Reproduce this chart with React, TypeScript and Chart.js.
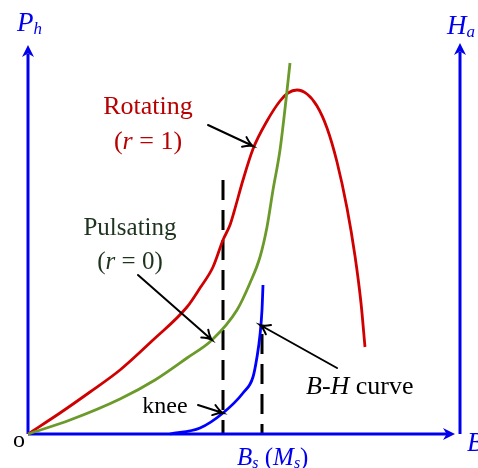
import React, { useEffect, useRef } from "react";
import { Chart, registerables } from "chart.js";

Chart.register(...registerables);

// Values (B on the horizontal axis, Ph / Ha on the vertical axes)
const rotatingCurve: [number, number][] = [
  [0, 0], [32, 21], [62, 42], [92, 64], [125, 94], [159, 127], [172, 146], [185, 167],
  [195, 194], [202, 209], [206, 222], [215, 254], [225, 285], [239, 313], [252, 333],
  [260, 341], [269, 344], [279, 340], [289, 328], [299, 306], [309, 272], [319, 226],
  [327, 178], [333, 131], [337, 87],
];
const pulsatingCurve: [number, number][] = [
  [0, 0], [42, 14], [92, 35], [127, 54], [159, 76], [184, 94], [209, 124], [222, 151],
  [232, 177], [239, 207], [245, 244], [252, 284], [258, 334], [262, 371],
];
const bhCurve: [number, number][] = [
  [142, 0], [172, 6], [195, 21], [215, 41], [225, 57], [229, 77], [232, 99], [234, 124], [235, 149],
];
const kneeLine: [number, number][] = [[195, 254], [195, 0]];
const saturationLine: [number, number][] = [[234, 100], [234, 0]];
const bAxis: [number, number][] = [[0, 0], [420, 0]];
const phAxis: [number, number][] = [[0, 0], [0, 380]];
const haAxis: [number, number][] = [[432, 0], [432, 382]];

const AXIS_BLUE = "#0000ee";
const RED = "#d00000";
const GREEN = "#6b9a2b";
const SERIF = '"Liberation Serif", "DejaVu Serif", serif';

const toXY = (arr: [number, number][]) => arr.map(([x, y]) => ({ x, y }));

type Run = { t: string; font: string; dy?: number };

function drawRuns(ctx: CanvasRenderingContext2D, x: number, y: number, runs: Run[], color: string, align: "left" | "center") {
  ctx.save();
  ctx.fillStyle = color;
  ctx.textBaseline = "middle";
  ctx.textAlign = "left";
  let total = 0;
  for (const r of runs) { ctx.font = r.font; total += ctx.measureText(r.t).width; }
  let cx = align === "center" ? x - total / 2 : x;
  for (const r of runs) {
    ctx.font = r.font;
    ctx.fillText(r.t, cx, y + (r.dy || 0));
    cx += ctx.measureText(r.t).width;
  }
  ctx.restore();
}

function filledHead(ctx: CanvasRenderingContext2D, tx: number, ty: number, ang: number, len: number, half: number, color: string) {
  const ca = Math.cos(ang), sa = Math.sin(ang);
  const pt = (b: number, s: number) => [tx - ca * b - sa * s, ty - sa * b + ca * s];
  const [lx, ly] = pt(len, half);
  const [rx, ry] = pt(len, -half);
  const [mx, my] = pt(len * 0.7, 0);
  ctx.save();
  ctx.fillStyle = color;
  ctx.beginPath();
  ctx.moveTo(tx, ty);
  ctx.lineTo(lx, ly);
  ctx.lineTo(mx, my);
  ctx.lineTo(rx, ry);
  ctx.closePath();
  ctx.fill();
  ctx.restore();
}

function openArrow(ctx: CanvasRenderingContext2D, x1: number, y1: number, x2: number, y2: number) {
  const ang = Math.atan2(y2 - y1, x2 - x1);
  ctx.save();
  ctx.strokeStyle = "#000";
  ctx.lineWidth = 2;
  ctx.lineCap = "round";
  ctx.beginPath();
  ctx.moveTo(x1, y1);
  ctx.lineTo(x2, y2);
  const L = 11, a = 0.5;
  ctx.moveTo(x2 - L * Math.cos(ang - a), y2 - L * Math.sin(ang - a));
  ctx.quadraticCurveTo(x2 - 4 * Math.cos(ang - 0.2), y2 - 4 * Math.sin(ang - 0.2), x2, y2);
  ctx.quadraticCurveTo(x2 - 4 * Math.cos(ang + 0.2), y2 - 4 * Math.sin(ang + 0.2), x2 - L * Math.cos(ang + a), y2 - L * Math.sin(ang + a));
  ctx.stroke();
  ctx.restore();
}

const arrows: [number, number, number, number][] = [
  [180, 309, 225, 288],
  [110, 159, 184, 94],
  [170, 29, 195, 21],
  [309, 66, 232, 109],
];

const decorPlugin = {
  id: "decor",
  afterDatasetsDraw(chart: any) {
    const ctx: CanvasRenderingContext2D = chart.ctx;
    const sx = chart.scales.x, sy = chart.scales.y;
    const P = (x: number, y: number) => [sx.getPixelForValue(x), sy.getPixelForValue(y)];

    // axis arrowheads
    let [ax, ay] = P(0, 389);
    filledHead(ctx, ax, ay, -Math.PI / 2, 12, 6, AXIS_BLUE);
    [ax, ay] = P(432, 391);
    filledHead(ctx, ax, ay, -Math.PI / 2, 12, 6, AXIS_BLUE);
    [ax, ay] = P(427, 0);
    filledHead(ctx, ax, ay, 0, 12, 6, AXIS_BLUE);

    for (const [x1, y1, x2, y2] of arrows) {
      const [p1x, p1y] = P(x1, y1);
      const [p2x, p2y] = P(x2, y2);
      openArrow(ctx, p1x, p1y, p2x, p2y);
    }

    const f = (s: number, it = false) => `${it ? "italic " : ""}${s}px ${SERIF}`;
    const txt = (x: number, y: number, runs: Run[], color: string, align: "left" | "center" = "center") => {
      const [px, py] = P(x, y);
      drawRuns(ctx, px, py, runs, color, align);
    };
    txt(120, 327, [{ t: "Rotating", font: f(26) }], "#b80000");
    txt(120, 292, [{ t: "(", font: f(26) }, { t: "r", font: f(26, true) }, { t: " = 1)", font: f(26) }], "#b80000");
    txt(102, 206, [{ t: "Pulsating", font: f(25) }], "#1e331e");
    txt(102, 172, [{ t: "(", font: f(25) }, { t: "r", font: f(25, true) }, { t: " = 0)", font: f(25) }], "#1e331e");
    txt(137, 27, [{ t: "knee", font: f(24) }], "#000");
    txt(278, 47, [{ t: "B", font: f(26, true) }, { t: "-", font: f(26) }, { t: "H", font: f(26, true) }, { t: " curve", font: f(26) }], "#000", "left");
    txt(209, -24, [
      { t: "B", font: f(25, true) }, { t: "s", font: f(16, true), dy: 6 }, { t: " (", font: f(25) },
      { t: "M", font: f(25, true) }, { t: "s", font: f(16, true), dy: 6 }, { t: ")", font: f(25) },
    ], AXIS_BLUE, "left");
    txt(-9, -7, [{ t: "o", font: f(24) }], "#000");
    txt(-11, 410, [{ t: "P", font: f(27, true) }, { t: "h", font: f(17, true), dy: 6 }], AXIS_BLUE, "left");
    txt(419, 407, [{ t: "H", font: f(27, true) }, { t: "a", font: f(17, true), dy: 6 }], AXIS_BLUE, "left");
    txt(439, -10, [{ t: "B", font: f(27, true) }], AXIS_BLUE, "left");
  },
};

export default function App() {
  const ref = useRef<HTMLCanvasElement | null>(null);
  useEffect(() => {
    if (!ref.current) return;
    const line = (data: [number, number][], color: string, width: number, extra: any = {}) => ({
      data: toXY(data),
      showLine: true,
      borderColor: color,
      backgroundColor: color,
      borderWidth: width,
      pointRadius: 0,
      fill: false,
      tension: 0,
      ...extra,
    });
    const smooth = { cubicInterpolationMode: "monotone" as const };
    const chart = new Chart(ref.current, {
      type: "scatter",
      data: {
        datasets: [
          line(saturationLine, "#000", 3, { borderDash: [20, 10], order: 9 }),
          line(kneeLine, "#000", 3, { borderDash: [20, 10], order: 8 }),
          line(bAxis, AXIS_BLUE, 3, { order: 7 }),
          line(phAxis, AXIS_BLUE, 3, { order: 6 }),
          line(haAxis, AXIS_BLUE, 3, { order: 5 }),
          line(rotatingCurve, RED, 2.8, { ...smooth, order: 4 }),
          line(pulsatingCurve, GREEN, 2.8, { ...smooth, order: 3 }),
          line(bhCurve, "#0000ff", 2.8, { ...smooth, order: 2 }),
        ],
      },
      options: {
        responsive: false,
        animation: false,
        layout: { padding: 0 },
        plugins: { legend: { display: false }, tooltip: { enabled: false } },
        events: [],
        scales: {
          x: { type: "linear", min: -28, max: 450, display: false },
          y: { type: "linear", min: -34, max: 434, display: false },
        },
      },
      plugins: [decorPlugin],
    });
    return () => chart.destroy();
  }, []);
  return (
    <div style={{ position: "fixed", left: 0, top: 0, width: 478, height: 468, background: "#fff" }}>
      <canvas ref={ref} width={478} height={468} style={{ display: "block", width: 478, height: 468 }} />
    </div>
  );
}
